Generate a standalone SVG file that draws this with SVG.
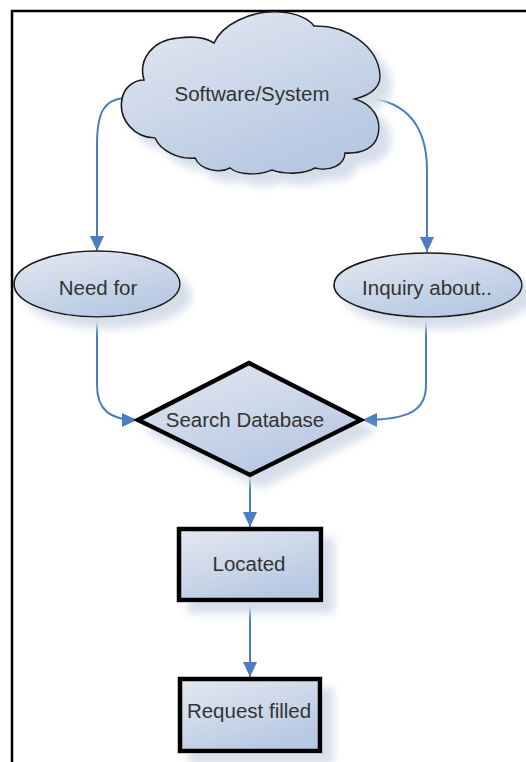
<svg xmlns="http://www.w3.org/2000/svg" width="526" height="762" viewBox="0 0 526 762">
<defs>
<style>
.lbl{font-family:"Liberation Sans",Arial,sans-serif;font-size:20.5px;fill:#333;text-anchor:middle}
.thin{fill:url(#g);stroke:#1a1a1a;stroke-width:1.6}
.thick{fill:url(#g);stroke:#000;stroke-width:4.5;stroke-linejoin:miter}
.con{fill:none;stroke:#4a7ebf;stroke-width:2;marker-end:url(#ah)}
</style>
<linearGradient id="g" x1="0" y1="0" x2="0.6" y2="1">
<stop offset="0" stop-color="#e4e9f0"/>
<stop offset="1" stop-color="#b7c8e3"/>
</linearGradient>
<filter id="sh" x="-20%" y="-20%" width="150%" height="150%">
<feOffset in="SourceAlpha" dx="11" dy="11" result="o"/>
<feGaussianBlur in="o" stdDeviation="4" result="b"/>
<feFlood flood-color="#d6deea"/>
<feComposite in2="b" operator="in" result="s"/>
<feMerge><feMergeNode in="s"/><feMergeNode in="SourceGraphic"/></feMerge>
</filter>
<marker id="ah" markerUnits="userSpaceOnUse" markerWidth="15" markerHeight="14" refX="15" refY="7" orient="auto">
<path d="M0,0 L15,7 L0,14 z" fill="#4a7ebf"/>
</marker>
</defs>
<rect width="526" height="762" fill="#fff"/>
<g id="frame" stroke="#000" stroke-width="2.5" fill="none">
<line x1="11" y1="11" x2="526" y2="11"/>
<line x1="12" y1="10" x2="12" y2="762"/>
</g>
<g id="connectors">
<path class="con" d="M124,98 C104,100 97,112 97,145 L97,251"/>
<path class="con" d="M355,98 C400,96 427,120 427,170 L427,252"/>
<path class="con" d="M97,318 L97,385 C97,410 110,420 137,420"/>
<path class="con" d="M426,318 L426,385 C426,410 410,420 362,420"/>
<path class="con" d="M250,476 L250,527"/>
<path class="con" d="M250,602 L250,677"/>
</g>
<g id="software-system">
<path class="thin" filter="url(#sh)" d="M122,99 C124,88 133,80 144,80 C138,60 152,40 178,38 C194,36 207,38 214,43 C222,25 250,10 280,12 C298,13 310,20 314,26 C345,25 378,45 380,75 C381,86 372,95 355,99 C372,104 382,118 378,135 C375,148 362,154 345,153 C345,165 330,172 315,168 C305,174 285,175 272,170 C258,176 238,175 230,168 C220,174 200,170 195,158 C178,160 160,150 155,138 C135,138 118,120 122,99 Z"/>
<text class="lbl" x="252" y="101">Software/System</text>
</g>
<g id="need-for">
<ellipse class="thin" filter="url(#sh)" cx="97" cy="284" rx="83" ry="33"/>
<text class="lbl" x="98" y="295">Need for</text>
</g>
<g id="inquiry-about">
<ellipse class="thin" filter="url(#sh)" cx="428" cy="285" rx="94" ry="32"/>
<text class="lbl" x="427" y="295">Inquiry about..</text>
</g>
<g id="search-database">
<polygon class="thick" filter="url(#sh)" points="249,363 361,420 250,475 138,420"/>
<text class="lbl" x="245" y="427">Search Database</text>
</g>
<g id="located">
<rect class="thick" filter="url(#sh)" x="179" y="529" width="142" height="71"/>
<text class="lbl" x="249" y="571">Located</text>
</g>
<g id="request-filled">
<rect class="thick" filter="url(#sh)" x="180" y="679" width="140" height="72"/>
<text class="lbl" x="249" y="718">Request filled</text>
</g>
</svg>
